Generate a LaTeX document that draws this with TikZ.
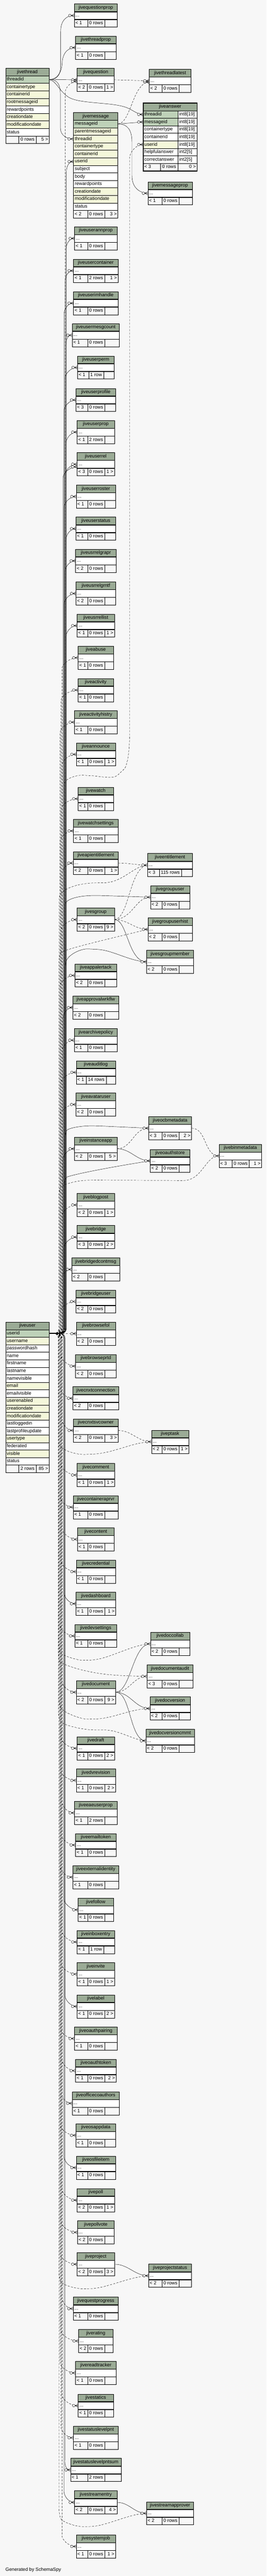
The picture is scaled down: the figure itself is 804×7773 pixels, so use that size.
\documentclass[tikz,border=0pt]{standalone}
\usepackage{fontspec}
\setmainfont{Liberation Sans}
\usetikzlibrary{calc}
\definecolor{hdrgreen}{HTML}{9BAB96}
\definecolor{keygreen}{HTML}{BED1B8}
\definecolor{idxyellow}{HTML}{F4F7DA}
\definecolor{canvasgray}{HTML}{F7F7F7}

% table: name, left, right, top, parents, rows, children
\newcommand\tbl[7]{%
  \pgfmathsetmacro\tblw{#3-#2-7.2}%
  \node[hdr,text width=\tblw pt] (#1) at (#2,#4) {#1};
  \node[dots,text width=\tblw pt] (#1-r) at (#1.south west) {...};
  \node[foot,text width=\tblw pt] (#1-f) at (#1-r.south west) {};
  \node[cnt] (#1-n) at ([xshift=1pt]#1-f.center) {#6};
  \node[tag,anchor=west] (#1-a) at (#1-f.west) {#5};
  \node[tag,anchor=east] (#1-b) at (#1-f.east) {#7};
}
% jiveuser.userid to a table above / below
\newcommand\uup[3][ifk]{%
  \draw[#1,rounded corners=14pt] (jiveuser-userid.east) -- (#3,0 |- jiveuser-userid.east)
    -- ($(#3,0 |- #2-r.west)+(0,46)$) to[out=90,in=180] (#2-r.west);
  \pic at (#2-r.west) {crowfoot};
}
\newcommand\udn[3][ifk]{%
  \draw[#1,rounded corners=14pt] (jiveuser-userid.east) -- (#3,0 |- jiveuser-userid.east)
    -- ($(#3,0 |- #2-r.west)+(0,-46)$) to[out=-90,in=180] (#2-r.west);
  \pic at (#2-r.west) {crowfoot};
}

\begin{document}
\begin{tikzpicture}[x=1pt,y=-1pt,font=\fontsize{14.3}{17}\selectfont,
  hdr/.style={draw,line width=0.8pt,fill=hdrgreen,anchor=north west,minimum height=22.7pt,
    inner ysep=0pt,inner xsep=3.6pt,text height=10.4pt,text depth=3pt,align=center},
  dots/.style={hdr,fill=white,align=left},
  foot/.style={hdr,fill=canvasgray},
  cnt/.style={draw,line width=0.8pt,fill=canvasgray,minimum height=22.7pt,inner ysep=0pt,
    inner xsep=4.8pt,text height=10.4pt,text depth=3pt},
  tag/.style={inner ysep=0pt,inner xsep=3.6pt,text height=10.4pt,text depth=3pt},
  fk/.style={draw,line width=0.7pt},
  ifk/.style={fk,dash pattern=on 6pt off 4pt},
  crowfoot/.pic={
    \draw[line width=0.7pt] (-9,0) -- (0,-4.5) (-9,0) -- (0,0) (-9,0) -- (0,4.5);
    \draw[line width=0.7pt,fill=canvasgray] (-13,0) circle (4pt);}]
\useasboundingbox (0,0) rectangle (804,7773);
\fill[canvasgray] (0,0) rectangle (804,7773);

% jivethread
\node[hdr,text width=124.4pt] (jivethread) at (16.4,205.6) {jivethread};
\foreach \fld/\tint [count=\i] in {threadid/keygreen,containertype/idxyellow,containerid/idxyellow,
    rootmessageid/idxyellow,rewardpoints/white,creationdate/idxyellow,modificationdate/idxyellow,status/white}
  \node[dots,fill=\tint,text width=124.4pt] (jivethread-\fld) at (16.4,205.6+22.7*\i) {\fld};
\node[foot,text width=124.4pt] (jivethread-f) at (16.4,409.9) {};
\node[cnt] (jivethread-n) at ([xshift=0.3pt]jivethread-f.center) {0 rows};
\node[tag,anchor=east] (jivethread-b) at (jivethread-f.east) {5 >};

% jivemessage
\node[hdr,text width=126.3pt] (jivemessage) at (221.5,339.5) {jivemessage};
\foreach \fld/\tint [count=\i] in {messageid/keygreen,parentmessageid/idxyellow,threadid/idxyellow,
    containertype/idxyellow,containerid/idxyellow,userid/idxyellow,subject/white,body/white,
    rewardpoints/white,creationdate/idxyellow,modificationdate/idxyellow,status/white}
  \node[dots,fill=\tint,text width=126.3pt] (jivemessage-\fld) at (221.5,339.5+22.7*\i) {\fld};
\node[foot,text width=126.3pt] (jivemessage-f) at (221.5,634.6) {};
\node[cnt] (jivemessage-n) at ([xshift=1.2pt]jivemessage-f.center) {0 rows};
\node[tag,anchor=west] (jivemessage-a) at (jivemessage-f.west) {< 2};
\node[tag,anchor=east] (jivemessage-b) at (jivemessage-f.east) {3 >};

% jiveanswer
\node[hdr,text width=155.1pt] (jiveanswer) at (431.5,311) {jiveanswer};
\foreach \fld/\tint/\typ [count=\i] in {threadid/keygreen/int8[19],messageid/keygreen/int8[19],
    containertype/white/int8[19],containerid/white/int8[19],userid/idxyellow/int8[19],
    helpfulanswer/white/int2[5],correctanswer/white/int2[5]}
{
  \node[dots,fill=\tint,text width=97.7pt] (jiveanswer-\fld) at (431.5,311+22.7*\i) {\fld};
  \node[dots,text width=50.2pt] (jiveanswer-\fld-t) at (536.4,311+22.7*\i) {\typ};
}
\node[foot,text width=155.1pt] (jiveanswer-f) at (431.5,492.6) {};
\node[cnt,anchor=east] (jiveanswer-n) at (536.4,0 |- jiveanswer-f.center) {0 rows};
\node[tag,anchor=west] (jiveanswer-a) at (jiveanswer-f.west) {< 3};
\node[tag,anchor=east] (jiveanswer-b) at (jiveanswer-f.east) {0 >};
\draw[line width=3pt] (jiveanswer.north west) rectangle (jiveanswer-f.south east);

% jiveuser
\node[hdr,text width=124.4pt] (jiveuser) at (16.4,3989) {jiveuser};
\foreach \fld/\tint [count=\i] in {userid/keygreen,username/idxyellow,passwordhash/white,name/white,
    firstname/white,lastname/white,namevisible/white,email/idxyellow,emailvisible/white,
    userenabled/idxyellow,creationdate/idxyellow,modificationdate/idxyellow,lastloggedin/white,
    lastprofileupdate/white,usertype/idxyellow,federated/white,visible/idxyellow,status/white}
  \node[dots,fill=\tint,text width=124.4pt] (jiveuser-\fld) at (16.4,3989+22.7*\i) {\fld};
\node[foot,text width=124.4pt] (jiveuser-f) at (16.4,4420.3) {};
\node[cnt] (jiveuser-n) at ([xshift=0.3pt]jiveuser-f.center) {2 rows};
\node[tag,anchor=east] (jiveuser-b) at (jiveuser-f.east) {85 >};

\tbl{jivequestionprop}{223.6}{353.3}{11.6}{< 1}{0 rows}{}
\tbl{jivethreadprop}{227.7}{349.7}{108.6}{< 1}{0 rows}{}
\tbl{jivequestion}{232.3}{344.1}{205.6}{< 2}{0 rows}{1 >}
\tbl{jivethreadlatest}{449.7}{575.4}{208.5}{< 2}{0 rows}{}
\tbl{jivemessageprop}{445.6}{579.5}{548}{< 1}{0 rows}{}
\tbl{jiveuserannprop}{224.6}{352.3}{684}{< 1}{0 rows}{}
\tbl{jiveusercontainer}{221.5}{355.4}{781.5}{< 1}{2 rows}{1 >}
\tbl{jiveuserimhandle}{221.5}{355.4}{879.5}{< 1}{0 rows}{}
\tbl{jiveusermesgcount}{217.4}{359.5}{976}{< 1}{0 rows}{}
\tbl{jiveuserperm}{233.3}{343.6}{1073.6}{< 1}{1 row}{}
\tbl{jiveuserprofile}{228.7}{348.7}{1171.6}{< 3}{0 rows}{}
\tbl{jiveuserprop}{232.3}{344.6}{1268.6}{< 1}{2 rows}{}
\tbl{jiveuserrel}{232.3}{344.6}{1365.4}{< 3}{0 rows}{1 >}
\tbl{jiveuserroster}{229.7}{347.7}{1463}{< 1}{0 rows}{}
\tbl{jiveuserstatus}{228.7}{348.7}{1560}{< 1}{0 rows}{}
\tbl{jiveusrrelgrapr}{227.7}{349.7}{1657}{< 2}{0 rows}{}
\tbl{jiveusrrelgrntf}{228.7}{348.7}{1755.5}{< 2}{0 rows}{}
\tbl{jiveusrrellist}{232.3}{344.6}{1852.5}{< 1}{0 rows}{1 >}
\tbl{jiveabuse}{235.4}{341.5}{1949.5}{< 1}{0 rows}{}
\tbl{jiveactivity}{235.4}{341.5}{2047}{< 1}{0 rows}{}
\tbl{jiveactivityhistry}{224.6}{352.3}{2144}{< 1}{0 rows}{}
\tbl{jiveannounce}{229.7}{347.7}{2241}{< 1}{0 rows}{1 >}
\tbl{jivewatch}{235.4}{341.5}{2375}{< 1}{0 rows}{}
\tbl{jivewatchsettings}{221.5}{355.4}{2472}{< 1}{0 rows}{}
\tbl{jiveapientitlement}{220.5}{356.4}{2569}{< 2}{0 rows}{1 >}
\tbl{jiveentitlement}{444.1}{580.5}{2575}{< 3}{115 rows}{}
\tbl{jivegroupuser}{453.3}{571.8}{2672}{< 2}{0 rows}{}
\tbl{jivesgroup}{232.3}{344.6}{2739.6}{< 2}{0 rows}{9 >}
\tbl{jivegroupuserhist}{445.6}{579.5}{2769}{< 2}{0 rows}{}
\tbl{jivesgroupmember}{441.5}{583.6}{2867}{< 2}{0 rows}{}
\tbl{jiveappalertack}{225.6}{351.3}{2908}{< 2}{0 rows}{}
\tbl{jiveapprovalwrkflw}{219.5}{357.4}{3005}{< 2}{0 rows}{}
\tbl{jivearchivepolicy}{223.6}{353.3}{3103.5}{< 1}{0 rows}{}
\tbl{jiveauditlog}{229.7}{347.7}{3200.5}{< 1}{14 rows}{}
\tbl{jiveavataruser}{228.7}{348.7}{3297.5}{< 2}{0 rows}{}
\tbl{jiveocbmetadata}{447.7}{577.4}{3369}{< 3}{0 rows}{2 >}
\tbl{jiveinstanceapp}{224.6}{352.3}{3431}{< 2}{0 rows}{5 >}
\tbl{jivebinmetadata}{660.5}{788.7}{3452.6}{< 3}{0 rows}{1 >}
\tbl{jiveoauthstore}{452.8}{572.3}{3467.5}{< 2}{0 rows}{}
\tbl{jiveblogpost}{232.3}{344.6}{3600.6}{< 2}{0 rows}{1 >}
\tbl{jivebridge}{232.3}{344.6}{3697.5}{< 3}{0 rows}{2 >}
\tbl{jivebridgedcontmsg}{216.4}{360.5}{3795}{< 2}{0 rows}{}
\tbl{jivebridgeuser}{228.7}{348.7}{3892}{< 2}{0 rows}{}
\tbl{jivebrowsefol}{229.7}{347.7}{3989}{< 2}{0 rows}{}
\tbl{jivebrowseprtd}{227.7}{349.7}{4087}{< 2}{0 rows}{}
\tbl{jivecnxtconnection}{219.5}{357.4}{4184}{< 2}{0 rows}{}
\tbl{jivecnxtsvcowner}{221.5}{355.4}{4281}{< 2}{0 rows}{3 >}
\tbl{jiveptask}{456.4}{568.7}{4315}{< 2}{0 rows}{1 >}
\tbl{jivecomment}{231.8}{345.6}{4415.5}{< 1}{0 rows}{1 >}
\tbl{jivecontaineraprvr}{220.5}{356.4}{4512.5}{< 1}{0 rows}{}
\tbl{jivecontent}{233.3}{343.6}{4609.5}{< 1}{0 rows}{}
\tbl{jivecredential}{229.7}{347.7}{4707}{< 1}{0 rows}{}
\tbl{jivedashboard}{228.7}{348.7}{4804}{< 1}{0 rows}{1 >}
\tbl{jivedevsettings}{225.6}{351.3}{4901}{< 1}{0 rows}{}
\tbl{jivedoccollab}{453.3}{571.8}{4925}{< 2}{0 rows}{}
\tbl{jivedocumentaudit}{443.6}{581.5}{5023}{< 3}{0 rows}{}
\tbl{jivedocument}{229.7}{347.7}{5071}{< 2}{0 rows}{9 >}
\tbl{jivedocversion}{451.8}{573.3}{5120}{< 2}{0 rows}{}
\tbl{jivedocversioncmmt}{439.5}{585.6}{5217.6}{< 2}{0 rows}{}
\tbl{jivedraft}{232.3}{344.6}{5240}{< 1}{0 rows}{2 >}
\tbl{jivedvrevision}{229.7}{347.7}{5337}{< 1}{0 rows}{2 >}
\tbl{jiveeaeuserprop}{224.6}{352.3}{5435}{< 1}{2 rows}{}
\tbl{jiveemailtoken}{227.7}{349.7}{5532}{< 1}{0 rows}{}
\tbl{jiveexternalidentity}{219.5}{357.4}{5629}{< 1}{0 rows}{}
\tbl{jivefollow}{235.4}{341.5}{5727.5}{< 1}{0 rows}{}
\tbl{jiveinboxentry}{232.3}{344.6}{5824.5}{< 1}{1 row}{}
\tbl{jiveinvite}{232.3}{344.6}{5921.5}{< 1}{0 rows}{1 >}
\tbl{jivelabel}{232.3}{344.6}{6019}{< 1}{0 rows}{2 >}
\tbl{jiveoauthpairing}{224.6}{352.3}{6116}{< 1}{0 rows}{}
\tbl{jiveoauthtoken}{227.7}{349.7}{6213}{< 1}{0 rows}{2 >}
\tbl{jiveofficecoauthors}{217.4}{359.5}{6311.5}{< 1}{0 rows}{}
\tbl{jiveosappdata}{228.7}{348.7}{6408}{< 1}{0 rows}{}
\tbl{jiveosfileitem}{229.7}{347.7}{6505.5}{< 1}{0 rows}{}
\tbl{jivepoll}{232.3}{344.6}{6603.5}{< 2}{0 rows}{1 >}
\tbl{jivepollvote}{233.3}{343.6}{6700.6}{< 2}{0 rows}{}
\tbl{jiveproject}{232.3}{344.6}{6797}{< 2}{0 rows}{3 >}
\tbl{jiveprojectstatus}{447.7}{577.4}{6831.6}{< 2}{0 rows}{}
\tbl{jivequestprogress}{220.5}{356.4}{6931}{< 1}{0 rows}{}
\tbl{jiverating}{236.4}{340.5}{7028.5}{< 2}{0 rows}{}
\tbl{jivereadtracker}{227.7}{349.7}{7125}{< 1}{0 rows}{}
\tbl{jivestatics}{235.4}{341.5}{7223.6}{< 1}{0 rows}{}
\tbl{jivestatuslevelpnt}{221.5}{355.4}{7320.6}{< 1}{0 rows}{}
\tbl{jivestatuslevelpntsum}{212.3}{364.6}{7417.6}{< 1}{2 rows}{}
\tbl{jivestreamentry}{224.6}{352.3}{7515.5}{< 2}{0 rows}{4 >}
\tbl{jivestreamapprover}{441.5}{583.6}{7548.5}{< 2}{0 rows}{}
\tbl{jivesystemjob}{229.7}{347.7}{7648.5}{< 1}{0 rows}{1 >}

\node[anchor=west,inner sep=0pt] (credit) at (16.4,7754.5) {Generated by SchemaSpy};

% jivethread.threadid
\draw[fk] (jivethread-threadid.east) .. controls (172,240) and (183,228) .. (183,195) -- (183,95)
  .. controls (183,62) and (200,46) .. (jivequestionprop-r.west);
\pic at (jivequestionprop-r.west) {crowfoot};
\draw[fk] (jivethread-threadid.east) .. controls (175,240) and (187,215) .. (188,185)
  .. controls (190,160) and (205,143) .. (jivethreadprop-r.west);
\pic at (jivethreadprop-r.west) {crowfoot};
\draw[fk] (jivethread-threadid.east) -- (jivequestion-r.west);
\pic at (jivequestion-r.west) {crowfoot};
\draw[fk] (jivethread-threadid.east) .. controls (172,245) and (180,280) .. (212,296)
  .. controls (250,314) and (345,308) .. (385,326) .. controls (405,335) and (415,345) .. (jiveanswer-threadid.west);
\pic at (jiveanswer-threadid.west) {crowfoot};
\draw[fk] (jivethread-threadid.east) .. controls (172,240) and (182,252) .. (182,285) -- (182,385)
  .. controls (182,408) and (200,419) .. (jivemessage-threadid.west);
\pic at (jivemessage-threadid.west) {crowfoot};

% jivemessage.messageid
\draw[fk] (jivemessage-messageid.east) -- (jiveanswer-messageid.west);
\pic at (jiveanswer-messageid.west) {crowfoot};
\draw[ifk] (jivemessage-messageid.east) .. controls (395,372) and (400,250) .. ([yshift=-4pt]jivethreadlatest-r.west);
\pic at ([yshift=-4pt]jivethreadlatest-r.west) {crowfoot};
\draw[fk] (jivemessage-messageid.east) .. controls (385,374) and (398,392) .. (398,430) -- (398,530)
  .. controls (398,566) and (420,582) .. (jivemessageprop-r.west);
\pic at (jivemessageprop-r.west) {crowfoot};
\draw[ifk] (jivequestion-r.east) -- (jivethreadlatest-r.west);
\pic at (jivethreadlatest-r.west) {crowfoot};

% jiveuser.userid, top part
\draw[ifk,rounded corners=14pt] (jiveuser-userid.east) -- (194,0 |- jiveuser-userid.east) -- (194,2380)
  .. controls (194,2350) and (230,2338) .. (265,2340) .. controls (300,2342) and (340,2352) .. (365,2330)
  .. controls (385,2310) and (391,2260) .. (391,2200) -- (391,490)
  .. controls (391,460) and (410,436) .. (jiveanswer-userid.west);
\pic at (jiveanswer-userid.west) {crowfoot};
\draw[fk,rounded corners=14pt] (jiveuser-userid.east) -- (200,0 |- jiveuser-userid.east) -- (200,535)
  to[out=90,in=180] (jivemessage-userid.west);
\pic at (jivemessage-userid.west) {crowfoot};
\draw[ifk,rounded corners=14pt] (jiveuser-userid.east) -- (197,0 |- jiveuser-userid.east) -- (197,290)
  to[out=90,in=180] ([yshift=-5pt]jivequestion-r.west);
\pic at ([yshift=-5pt]jivequestion-r.west) {crowfoot};

\uup[fk]{jiveuserannprop}{199}
\uup[fk]{jiveusercontainer}{196}
\uup[fk]{jiveuserimhandle}{193}
\uup[fk]{jiveusermesgcount}{199}
\uup[fk]{jiveuserperm}{196}
\uup[fk]{jiveuserprofile}{193}
\uup[fk]{jiveuserprop}{199}
\uup[fk]{jiveuserrel}{196}
\draw[fk,rounded corners=14pt] (jiveuser-userid.east) -- (190,0 |- jiveuser-userid.east) -- (190,1455)
  to[out=90,in=180] ([yshift=-8pt]jiveuserrel-r.west);
\pic at ([yshift=-8pt]jiveuserrel-r.west) {crowfoot};
\uup[fk]{jiveuserroster}{193}
\uup[fk]{jiveuserstatus}{199}
\uup[fk]{jiveusrrelgrapr}{196}
\uup[fk]{jiveusrrelgrntf}{193}
\uup[fk]{jiveusrrellist}{199}
\uup{jiveabuse}{187}
\uup{jiveactivity}{184}
\uup{jiveactivityhistry}{181}
\uup{jiveannounce}{187}
\uup{jivewatch}{184}
\uup{jivewatchsettings}{181}
\uup{jiveapientitlement}{187}
\uup{jivesgroup}{184}
\uup{jiveappalertack}{181}
\uup[fk]{jiveapprovalwrkflw}{190}
\uup{jivearchivepolicy}{187}
\uup{jiveauditlog}{184}
\uup{jiveavataruser}{181}
\uup[fk]{jiveinstanceapp}{190}
\uup{jiveblogpost}{187}
\uup[fk]{jivebridge}{193}
\uup{jivebridgedcontmsg}{184}
\uup{jivebridgeuser}{181}
\draw[ifk] (jiveuser-userid.east) -- (jivebrowsefol-r.west);
\pic at (jivebrowsefol-r.west) {crowfoot};

% groups and entitlements
\draw[ifk] (jiveapientitlement-r.east) to[out=0,in=180] (jiveentitlement-r.west);
\draw[ifk,rounded corners=14pt] (jiveuser-userid.east) -- (178,0 |- jiveuser-userid.east) -- (178,2725)
  .. controls (178,2685) and (230,2665) .. (300,2664) .. controls (370,2663) and (405,2612) .. (jiveentitlement-r.west);
\draw[ifk] (jivesgroup-r.east) .. controls (390,2770) and (390,2620) .. (jiveentitlement-r.west);
\pic at (jiveentitlement-r.west) {crowfoot};
\draw[ifk] (jivesgroup-r.east) .. controls (400,2773) and (410,2706) .. (jivegroupuser-r.west);
\draw[fk,rounded corners=14pt] (jiveuser-userid.east) -- (196,0 |- jiveuser-userid.east) -- (196,2745)
  .. controls (196,2712) and (240,2702) .. (300,2702) -- (jivegroupuser-r.west);
\pic at (jivegroupuser-r.west) {crowfoot};
\draw[ifk] (jivesgroup-r.east) to[out=0,in=180] (jivegroupuserhist-r.west);
\draw[ifk,rounded corners=14pt] (jiveuser-userid.east) -- (178,0 |- jiveuser-userid.east) -- (178,2890)
  .. controls (185,2866) and (300,2840) .. (jivegroupuserhist-r.west);
\pic at (jivegroupuserhist-r.west) {crowfoot};
\draw[fk] (jivesgroup-r.east) .. controls (385,2775) and (385,2900) .. (jivesgroupmember-r.west);
\draw[fk,rounded corners=14pt] (jiveuser-userid.east) -- (196,0 |- jiveuser-userid.east) -- (196,2915)
  .. controls (205,2880) and (245,2862) .. (280,2864) .. controls (340,2867) and (390,2900) .. (jivesgroupmember-r.west);
\pic at (jivesgroupmember-r.west) {crowfoot};

% instance apps and metadata
\draw[fk,rounded corners=14pt] (jiveuser-userid.east) -- (196,0 |- jiveuser-userid.east) -- (196,3425)
  .. controls (203,3405) and (240,3397) .. (290,3397) -- (jiveocbmetadata-r.west);
\draw[ifk] (jiveinstanceapp-r.east) to[out=0,in=180] (jiveocbmetadata-r.west);
\pic at (jiveocbmetadata-r.west) {crowfoot};
\draw[fk] (jiveinstanceapp-r.east) to[out=0,in=180] (jiveoauthstore-r.west);
\draw[fk,rounded corners=14pt] (jiveuser-userid.east) -- (193,0 |- jiveuser-userid.east) -- (193,3565)
  .. controls (203,3548) and (300,3527) .. (jiveoauthstore-r.west);
\pic at (jiveoauthstore-r.west) {crowfoot};
\draw[ifk] (jiveocbmetadata-r.east) to[out=0,in=180] (jivebinmetadata-r.west);
\draw[ifk,rounded corners=14pt] (jiveuser-userid.east) -- (178,0 |- jiveuser-userid.east) -- (178,3600)
  .. controls (182,3575) and (230,3562) .. (280,3561) -- (540,3562)
  .. controls (610,3562) and (620,3487) .. (jivebinmetadata-r.west);
\pic at (jivebinmetadata-r.west) {crowfoot};

% jiveuser.userid, lower part
\udn{jivebrowseprtd}{184}
\udn{jivecnxtconnection}{181}
\udn{jivecnxtsvcowner}{187}
\draw[ifk] (jivecnxtsvcowner-r.east) to[out=0,in=180] (jiveptask-r.west);
\draw[ifk,rounded corners=14pt] (jiveuser-userid.east) -- (178,0 |- jiveuser-userid.east) -- (178,4340)
  .. controls (178,4375) and (230,4390) .. (270,4388) .. controls (340,4385) and (400,4352) .. (jiveptask-r.west);
\pic at (jiveptask-r.west) {crowfoot};
\udn{jivecomment}{184}
\udn{jivecontaineraprvr}{181}
\udn{jivecontent}{187}
\udn{jivecredential}{184}
\udn[fk]{jivedashboard}{193}
\udn{jivedevsettings}{181}
\udn{jivedocument}{187}
\draw[fk] (jivedocument-r.east) .. controls (395,5105) and (400,4960) .. (jivedoccollab-r.west);
\draw[ifk,rounded corners=14pt] (jiveuser-userid.east) -- (178,0 |- jiveuser-userid.east) -- (178,4970)
  .. controls (182,4995) and (235,5010) .. (265,5010) .. controls (330,5005) and (400,4962) .. (jivedoccollab-r.west);
\pic at (jivedoccollab-r.west) {crowfoot};
\draw[ifk] (jivedocument-r.east) to[out=0,in=180] (jivedocumentaudit-r.west);
\draw[ifk,rounded corners=14pt] (jiveuser-userid.east) -- (176,0 |- jiveuser-userid.east) -- (176,5000)
  .. controls (182,5020) and (230,5035) .. (260,5042) .. controls (320,5055) and (380,5057) .. (jivedocumentaudit-r.west);
\pic at (jivedocumentaudit-r.west) {crowfoot};
\draw[fk] (jivedocument-r.east) to[out=0,in=180] (jivedocversion-r.west);
\draw[ifk,rounded corners=14pt] (jiveuser-userid.east) -- (178,0 |- jiveuser-userid.east) -- (178,5140)
  .. controls (188,5165) and (240,5188) .. (280,5187) .. controls (340,5185) and (400,5155) .. (jivedocversion-r.west);
\pic at (jivedocversion-r.west) {crowfoot};
\draw[fk] (jivedocument-r.east) .. controls (395,5105) and (390,5250) .. (jivedocversioncmmt-r.west);
\draw[ifk,rounded corners=14pt] (jiveuser-userid.east) -- (176,0 |- jiveuser-userid.east) -- (176,5180)
  .. controls (186,5205) and (250,5220) .. (300,5220) .. controls (360,5220) and (400,5250) .. (jivedocversioncmmt-r.west);
\pic at (jivedocversioncmmt-r.west) {crowfoot};
\udn{jivedraft}{184}
\udn{jivedvrevision}{181}
\udn{jiveeaeuserprop}{187}
\udn{jiveemailtoken}{184}
\udn{jiveexternalidentity}{181}
\udn[fk]{jivefollow}{193}
\udn{jiveinboxentry}{187}
\udn{jiveinvite}{184}
\udn[fk]{jivelabel}{196}
\udn{jiveoauthpairing}{181}
\udn{jiveoauthtoken}{187}
\udn{jiveofficecoauthors}{184}
\udn{jiveosappdata}{181}
\udn[fk]{jiveosfileitem}{193}
\udn{jivepoll}{187}
\udn{jivepollvote}{184}
\udn{jiveproject}{181}
\draw[fk] (jiveproject-r.east) to[out=0,in=180] (jiveprojectstatus-r.west);
\draw[ifk,rounded corners=14pt] (jiveuser-userid.east) -- (178,0 |- jiveuser-userid.east) -- (178,6870)
  .. controls (186,6895) and (230,6906) .. (260,6906) .. controls (320,6905) and (390,6870) .. (jiveprojectstatus-r.west);
\pic at (jiveprojectstatus-r.west) {crowfoot};
\udn{jivequestprogress}{187}
\udn{jiverating}{184}
\udn{jivereadtracker}{181}
\udn{jivestatics}{187}
\udn{jivestatuslevelpnt}{184}
\udn[fk]{jivestatuslevelpntsum}{196}
\udn[fk]{jivestreamentry}{193}
\draw[fk] (jivestreamentry-r.east) to[out=0,in=180] (jivestreamapprover-r.west);
\draw[ifk,rounded corners=14pt] (jiveuser-userid.east) -- (178,0 |- jiveuser-userid.east) -- (178,7585)
  .. controls (186,7610) and (230,7624) .. (262,7624) .. controls (320,7622) and (390,7585) .. (jivestreamapprover-r.west);
\pic at (jivestreamapprover-r.west) {crowfoot};
\udn{jivesystemjob}{187}
\end{tikzpicture}
\end{document}
